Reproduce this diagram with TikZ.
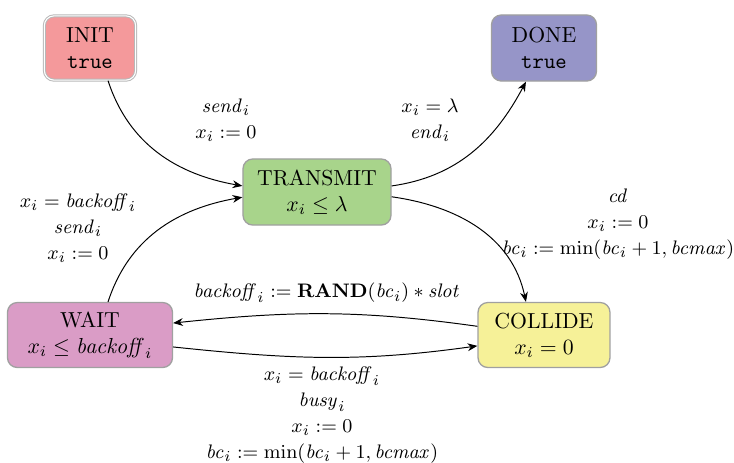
\documentclass[tikz,border=0pt]{standalone}
\usetikzlibrary{arrows.meta}
\definecolor{cinit}{HTML}{F4999B}
\definecolor{cdone}{HTML}{9695C8}
\definecolor{ctrans}{HTML}{A8D48B}
\definecolor{cwait}{HTML}{DA9CC6}
\definecolor{ccoll}{HTML}{F6F198}
\definecolor{cbord}{HTML}{A0A0A0}
\begin{document}
\begin{tikzpicture}[x=0.46pt,y=0.46pt,
  state/.style={draw=cbord, line width=0.6pt, rounded corners=4.5pt, align=center, inner sep=0pt, minimum height=30.4pt},
  lbl/.style={align=center, inner sep=0pt, font=\fontsize{9.5}{12}\selectfont},
  edge/.style={-{Stealth[length=4.5pt,width=3.6pt]}, line width=0.45pt}]
\useasboundingbox (0,0) rectangle (734,-462);
\node[state, fill=cinit, draw=cbord!75, double=white, double distance=0.5pt, line width=0.45pt, minimum width=42pt, minimum height=29.6pt] (init) at (90,-48) {INIT\\\texttt{true}};
\node[state, fill=cdone, minimum width=48.3pt] (done) at (544,-48) {DONE\\\texttt{true}};
\node[state, fill=ctrans, minimum width=68.1pt] (trans) at (317,-192) {TRANSMIT\\$x_i \le \lambda$};
\node[state, fill=cwait, minimum width=75.9pt, minimum height=29.9pt] (wait) at (90,-335) {WAIT\\$x_i \le \mathit{backoff}_i$};
\node[state, fill=ccoll, minimum width=60.7pt, minimum height=29.9pt] (coll) at (544,-335) {COLLIDE\\$x_i = 0$};

\draw[edge] ([xshift=8.3pt]init.south) to[out=-72, in=170] ([yshift=2.8pt]trans.west);
\draw[edge] ([yshift=2.8pt]trans.east) to[out=8, in=-118] ([xshift=-8.3pt]done.south);
\draw[edge] ([yshift=-2.2pt]trans.east) to[out=-8, in=102] ([xshift=-8.3pt]coll.north);
\draw[edge] ([xshift=8.3pt]wait.north) to[out=72, in=-170] ([yshift=-2.4pt]trans.west);
\draw[edge] ([yshift=4pt]coll.west) to[out=172, in=6] ([yshift=5.5pt]wait.east);
\draw[edge] ([yshift=-5.5pt]wait.east) to[out=-6, in=-172] ([yshift=-5pt]coll.west);

\node[lbl] (l1) at (226,-120) {$\mathit{send}_i$\\$x_i := 0$};
\node[lbl] (l2) at (430,-120) {$x_i = \lambda$\\$\mathit{end}_i$};
\node[lbl] (l3) at (618,-224) {$\mathit{cd}$\\$x_i := 0$\\$\mathit{bc}_i := \min(\mathit{bc}_i + 1, \mathit{bcmax})$};
\node[lbl] (l4) at (78,-228) {$x_i = \mathit{backoff}_i$\\$\mathit{send}_i$\\$x_i := 0$};
\node[lbl] (l5) at (327,-293) {$\mathit{backoff}_i := \mathbf{RAND}(\mathit{bc}_i) * \mathit{slot}$};
\node[lbl] (l6) at (322,-415) {$x_i = \mathit{backoff}_i$\\$\mathit{busy}_i$\\$x_i := 0$\\$\mathit{bc}_i := \min(\mathit{bc}_i + 1, \mathit{bcmax})$};
\end{tikzpicture}
\end{document}
